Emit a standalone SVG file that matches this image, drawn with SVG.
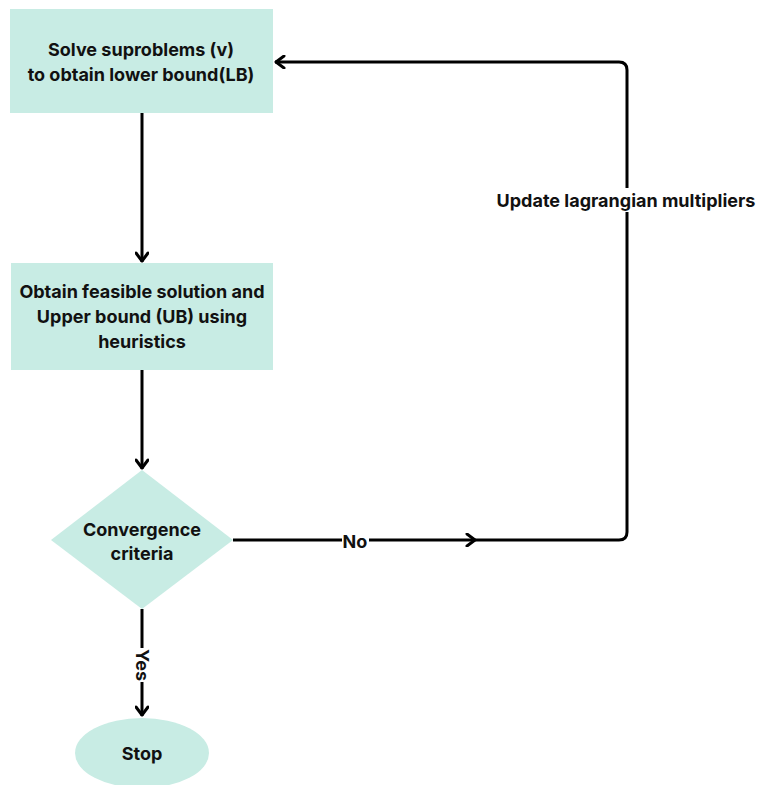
<svg xmlns="http://www.w3.org/2000/svg" width="760" height="785" viewBox="0 0 760 785">
<style>
.n{fill:#c8ece4}
.t{font-family:Inter,"Liberation Sans",sans-serif;font-weight:700;font-size:18px;fill:#111;text-anchor:middle;dominant-baseline:central}
.c{stroke:#000;stroke-width:3;fill:none}
</style>
<defs>
<marker id="a" viewBox="0 0 12 14" refX="11" refY="7" markerWidth="12" markerHeight="14" markerUnits="userSpaceOnUse" orient="auto">
<path d="M2,1 L10,7 L2,13" fill="none" stroke="#000" stroke-width="3" stroke-linecap="round" stroke-linejoin="round"/>
</marker>
</defs>
<rect width="760" height="785" fill="#fff"/>
<g id="connectors">
<line class="c" x1="142" y1="113" x2="142" y2="262" marker-end="url(#a)"/>
<line class="c" x1="142" y1="370" x2="142" y2="469" marker-end="url(#a)"/>
<line class="c" x1="233" y1="540" x2="476" y2="540" marker-end="url(#a)"/>
<path class="c" d="M476,540 H619 Q627,540 627,532 V70 Q627,62 619,62 H275" marker-end="url(#a)"/>
<line class="c" x1="142" y1="609" x2="142" y2="648"/>
<line class="c" x1="142" y1="682" x2="142" y2="716" marker-end="url(#a)"/>
<rect x="342" y="530" width="27" height="22" fill="#fff"/>
<text class="t" x="355" y="541">No</text>
<rect x="620" y="188" width="14" height="24" fill="#fff"/>
<text class="t" x="626" y="200">Update lagrangian multipliers</text>
<text class="t" transform="translate(142,665) rotate(90)">Yes</text>
</g>
<g id="solve">
<rect class="n" x="10" y="9" width="263" height="104"/>
<text class="t" x="141" y="49">Solve suproblems (v)</text>
<text class="t" x="141" y="74">to obtain lower bound(LB)</text>
</g>
<g id="feasible">
<rect class="n" x="11" y="263" width="262" height="107"/>
<text class="t" x="142" y="291">Obtain feasible solution and</text>
<text class="t" x="142" y="316">Upper bound (UB) using</text>
<text class="t" x="142" y="341">heuristics</text>
</g>
<g id="convergence">
<polygon class="n" points="142,470 233,540 142,609 51,540"/>
<text class="t" x="142" y="529">Convergence</text>
<text class="t" x="142" y="553">criteria</text>
</g>
<g id="stop">
<ellipse class="n" cx="142" cy="753" rx="67" ry="35"/>
<text class="t" x="142" y="753">Stop</text>
</g>
</svg>
